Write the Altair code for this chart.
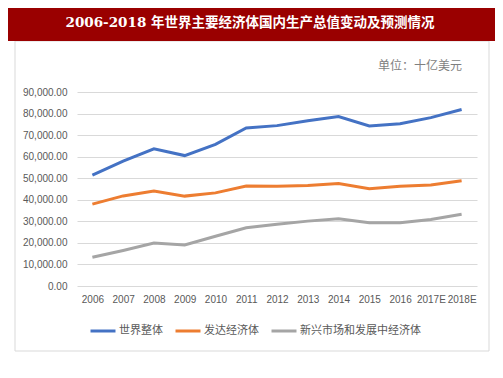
import altair as alt
import pandas as pd

years = ["2006", "2007", "2008", "2009", "2010", "2011", "2012",
         "2013", "2014", "2015", "2016", "2017E", "2018E"]
world = [51400, 57900, 63600, 60500, 65700, 73300, 74400,
         76700, 78600, 74200, 75300, 78100, 81900]
developed = [38000, 41800, 44100, 41700, 43200, 46400, 46300,
             46600, 47500, 45100, 46300, 46900, 48800]
emerging = [13300, 16500, 19900, 19000, 23100, 27000, 28700,
            30100, 31200, 29300, 29300, 30900, 33300]
series_names = ["世界整体", "发达经济体", "新兴市场和发展中经济体"]
colors = ["#4472C4", "#ED7D31", "#A5A5A5"]
y_ticks = [0, 10000, 20000, 30000, 40000, 50000, 60000, 70000, 80000, 90000]
title_text = "2006-2018 年世界主要经济体国内生产总值变动及预测情况"
unit_text = "单位：十亿美元"

rows = []
for name, vals in zip(series_names, [world, developed, emerging]):
    for yr, v in zip(years, vals):
        rows.append({"year": yr, "series": name, "value": v})
df = pd.DataFrame(rows)
one = pd.DataFrame({"t": [0]})

CJK = "Noto Sans CJK SC"

frame = alt.Chart(one).mark_rect(fillOpacity=0, stroke="#D9D9D9", strokeWidth=1).encode(
    x=alt.value(-62), x2=alt.value(412), y=alt.value(-51), y2=alt.value(259)
)
banner = alt.Chart(one).mark_rect(color="#9A0000").encode(
    x=alt.value(-69), x2=alt.value(430), y=alt.value(-84), y2=alt.value(-51)
)
title = alt.Chart(one).mark_text(
    text=title_text, color="white", font="DejaVu Serif, " + CJK, fontSize=13.5,
    fontWeight="bold", align="center", baseline="middle"
).encode(x=alt.value(173), y=alt.value(-69))
unit = alt.Chart(one).mark_text(
    text=unit_text, color="#7F7F7F", font=CJK, fontSize=12, align="right", baseline="middle"
).encode(x=alt.value(385), y=alt.value(-26))

lines = alt.Chart(df).mark_line(strokeWidth=3).encode(
    x=alt.X("year:N", sort=years, title=None,
            axis=alt.Axis(labelAngle=0, ticks=False, domain=False, labelPadding=8,
                          labelFontSize=10, labelColor="#595959", labelFont="Liberation Sans")),
    y=alt.Y("value:Q", title=None, scale=alt.Scale(domain=[0, 90000]),
            axis=alt.Axis(values=y_ticks, format=",.2f", ticks=False, domain=False,
                          labelPadding=10, labelFontSize=10, labelColor="#595959",
                          labelFont="Liberation Sans", gridColor="#D9D9D9", gridWidth=1)),
    color=alt.Color("series:N", sort=series_names,
                    scale=alt.Scale(domain=series_names, range=colors),
                    legend=alt.Legend(title=None, orient="none", legendX=12, legendY=225,
                                      direction="horizontal", symbolType="stroke",
                                      symbolSize=625, symbolStrokeWidth=3, labelOffset=2,
                                      columnPadding=6, padding=0, labelFont=CJK,
                                      labelFontSize=11, labelColor="#595959")),
    order=alt.Order("year:N"),
)

chart = alt.layer(frame, banner, title, unit, lines).properties(
    width=400, height=194,
    autosize=alt.AutoSizeParams(type="none"),
    padding={"left": 69, "top": 84, "right": 18, "bottom": 70},
    background="white",
).configure_view(stroke=None)

chart.save("out.html", embed_options={"renderer": "svg", "actions": False})
